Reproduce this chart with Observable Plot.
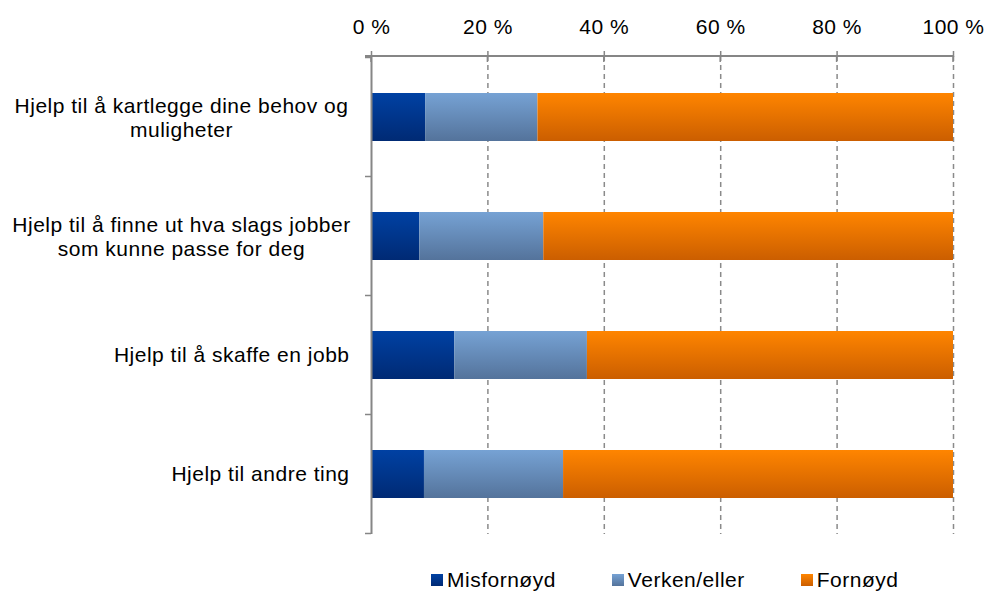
<!DOCTYPE html>
<html>
<head>
<meta charset="utf-8">
<script src="https://cdn.jsdelivr.net/npm/d3@7"></script>
<script src="https://cdn.jsdelivr.net/npm/@observablehq/plot@0.6"></script>
<style>
  body { margin: 0; background: #fff; font-family: "Liberation Sans", Arial, sans-serif; }
  #legend { display: flex; gap: 56px; padding-left: 431px; padding-top: 13px; height: 24px; font-size: 21px; letter-spacing: 0.5px; line-height: 24px; color: #000; }
  #legend .item { display: flex; align-items: center; }
  #legend .sw { width: 12px; height: 12px; margin-right: 4px; }
</style>
</head>
<body>
<div id="chart"></div>
<div id="legend"></div>
<script>
const categories = [
  "Hjelp til å kartlegge dine behov og muligheter",
  "Hjelp til å finne ut hva slags jobber som kunne passe for deg",
  "Hjelp til å skaffe en jobb",
  "Hjelp til andre ting"
];
const labelLines = [
  ["Hjelp til å kartlegge dine behov og", "muligheter"],
  ["Hjelp til å finne ut hva slags jobber", "som kunne passe for deg"],
  ["Hjelp til å skaffe en jobb"],
  ["Hjelp til andre ting"]
];
const seriesNames = ["Misfornøyd", "Verken/eller", "Fornøyd"];
const misfornoyd = [9.3, 8.3, 14.3, 9.1];
const verkenEller = [19.3, 21.3, 22.8, 23.9];
const fornoyd = [71.4, 70.4, 62.9, 67.0];
const xTicks = [0, 20, 40, 60, 80, 100];

const seriesGradients = [
  {id: "g-mis", top: "#0041a3", bottom: "#002a74"},
  {id: "g-ver", top: "#76a2d4", bottom: "#54739b"},
  {id: "g-for", top: "#ff8500", bottom: "#cb5e00"}
];

const seriesValues = [misfornoyd, verkenEller, fornoyd];
const table = categories.flatMap((c, i) =>
  seriesNames.map((s, j) => ({category: c, series: s, value: seriesValues[j][i]})));
const labels = categories.map((c, i) => ({category: c, text: labelLines[i].join("\n"), lines: labelLines[i].length}));

const axisGray = "#868686";

const chart = Plot.plot({
  width: 986,
  height: 555,
  marginLeft: 371,
  marginRight: 33,
  marginTop: 56,
  marginBottom: 21,
  style: {fontFamily: "'Liberation Sans', Arial, sans-serif", fontSize: "21px", letterSpacing: "0.5px", color: "#000", background: "#fff", overflow: "visible"},
  x: {domain: [0, 100], axis: "top", ticks: xTicks, tickFormat: d => `${d} %`, tickSize: 6, tickPadding: 17, label: null},
  y: {domain: categories, paddingInner: 0.6, paddingOuter: 0.3, axis: null},
  color: {domain: seriesNames, range: seriesGradients.map(g => `url(#${g.id})`)},
  marks: [
    Plot.ruleX(xTicks.slice(1), {stroke: "#8a8a8a", strokeWidth: 1.5, strokeDasharray: "5,4"}),
    Plot.barX(table, {x: "value", y: "category", fill: "series"}),
    Plot.ruleX([0], {stroke: axisGray, strokeWidth: 2}),
    Plot.text(labels.filter(d => d.lines > 1), {x: () => 0, y: "category", text: "text", textAnchor: "middle", dx: -190, lineHeight: 1.15, fill: "#000"}),
    Plot.text(labels.filter(d => d.lines === 1), {x: () => 0, y: "category", text: "text", textAnchor: "end", dx: -22, fill: "#000"})
  ]
});

const svgSel = d3.select(chart.tagName.toLowerCase() === "svg" ? chart : chart.querySelector("svg"));
// gradients
const defs = svgSel.insert("defs", ":first-child");
seriesGradients.forEach(g => {
  const lg = defs.append("linearGradient").attr("id", g.id).attr("x1", 0).attr("y1", 0).attr("x2", 0).attr("y2", 1);
  lg.append("stop").attr("offset", "0%").attr("stop-color", g.top);
  lg.append("stop").attr("offset", "100%").attr("stop-color", g.bottom);
});
// axis tick colours
svgSel.selectAll('[aria-label^="x-axis"] path, [aria-label^="x-axis"] line').attr("stroke", axisGray).attr("stroke-width", 1.5);

// x axis line and downward tick stubs, category boundary ticks
const xScale = chart.scale("x");
const yScale = chart.scale("y");
const xStart = xScale.apply(0), xEnd = xScale.apply(100);
const yTop = yScale.range[0];
const nCat = categories.length;
const yStep = yScale.step || (yScale.range[1] - yScale.range[0]) / (nCat - 0.6 + 0.6);
const yHalf = (yStep - yScale.bandwidth) / 2;
const bounds = categories.map(c => yScale.apply(c) - yHalf);
bounds.push(yScale.apply(categories[nCat - 1]) + yScale.bandwidth + yHalf);
const deco = svgSel.append("g").attr("stroke", axisGray).attr("fill", "none");
deco.append("line").attr("x1", xStart - 6).attr("x2", xEnd).attr("y1", yTop).attr("y2", yTop).attr("stroke-width", 2);
xTicks.forEach(t => deco.append("line").attr("x1", xScale.apply(t)).attr("x2", xScale.apply(t)).attr("y1", yTop).attr("y2", yTop + 6).attr("stroke-width", 1.5));
bounds.forEach(b => deco.append("line").attr("x1", xStart - 6).attr("x2", xStart).attr("y1", b).attr("y2", b).attr("stroke-width", 1.5));

document.getElementById("chart").appendChild(chart);

// legend
const legendSel = d3.select("#legend");
seriesNames.forEach((s, i) => {
  const item = legendSel.append("div").attr("class", "item");
  item.append("div").attr("class", "sw").style("background", `linear-gradient(${seriesGradients[i].top}, ${seriesGradients[i].bottom})`);
  item.append("span").text(s);
});
</script>
</body>
</html>
